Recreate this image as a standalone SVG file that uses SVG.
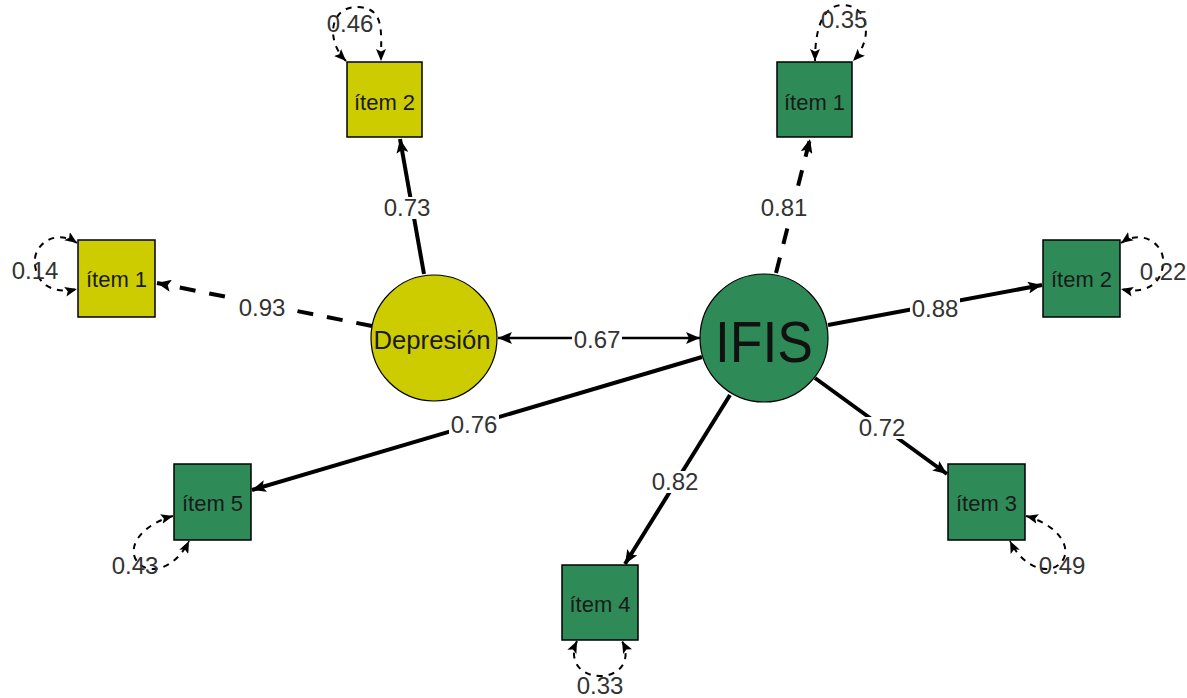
<svg xmlns="http://www.w3.org/2000/svg" width="1187" height="698" viewBox="0 0 1187 698">
<style>
  text { font-family: "Liberation Sans", Arial, sans-serif; }
  .lat { stroke: #000; stroke-width: 1.2; }
  .yel { fill: #CCCC00; }
  .grn { fill: #2E8B57; }
  .box { stroke: #000; stroke-width: 1.5; }
  .nlab { font-size: 22px; fill: #1a1a1a; text-anchor: middle; }
  .e { fill: none; stroke: #000; stroke-width: 4; }
  .dash { stroke-dasharray: 16 14; }
  .loop { fill: none; stroke: #000; stroke-width: 2; stroke-dasharray: 6 6; }
  .bg { fill: #fff; }
  .elab { font-size: 24px; fill: #333; text-anchor: middle; }
</style>
<defs>
  <marker id="ah" viewBox="0 0 14 12" refX="14" refY="6" markerWidth="14" markerHeight="12" markerUnits="userSpaceOnUse" orient="auto-start-reverse">
    <path d="M0,0 L14,6 L0,12 L3,6 Z" fill="#000"/>
  </marker>
  <marker id="ahs" viewBox="0 0 12 10" refX="12" refY="5" markerWidth="12" markerHeight="10" markerUnits="userSpaceOnUse" orient="auto-start-reverse">
    <path d="M0,0 L12,5 L0,10 L2.5,5 Z" fill="#000"/>
  </marker>
</defs>

<g id="connectors">
  <line class="e" x1="424" y1="274" x2="400" y2="139" marker-end="url(#ah)"/>
  <line class="e dash" x1="372" y1="326" x2="157" y2="283" marker-end="url(#ah)"/>
  <line class="e" style="stroke-width:2.5" x1="498" y1="338" x2="700" y2="338" marker-start="url(#ah)" marker-end="url(#ah)"/>
  <line class="e dash" x1="776" y1="273" x2="810" y2="139" marker-end="url(#ah)"/>
  <line class="e" x1="828" y1="325" x2="1042" y2="285" marker-end="url(#ah)"/>
  <line class="e" x1="815" y1="378" x2="947" y2="474" marker-end="url(#ah)"/>
  <line class="e" x1="730" y1="395" x2="625" y2="564" marker-end="url(#ah)"/>
  <line class="e" x1="702" y1="357" x2="252" y2="490" marker-end="url(#ah)"/>

  <path class="loop" d="M 346 61 C 325 40, 330 6, 358 7 C 385 8, 381 32, 381 61" marker-start="url(#ahs)" marker-end="url(#ahs)"/>
  <path class="loop" d="M 815 61 C 815 30, 822 5, 843 5 C 870 6, 873 40, 853 61" marker-start="url(#ahs)" marker-end="url(#ahs)"/>
  <path class="loop" d="M 77 243 C 55 228, 32 245, 35 265 C 38 290, 60 293, 77 289" marker-start="url(#ahs)" marker-end="url(#ahs)"/>
  <path class="loop" d="M 1121 243 C 1143 228, 1166 245, 1163 265 C 1160 290, 1138 293, 1121 289" marker-start="url(#ahs)" marker-end="url(#ahs)"/>
  <path class="loop" d="M 173 516 C 150 522, 128 540, 135 558 C 145 578, 175 570, 189 541" marker-start="url(#ahs)" marker-end="url(#ahs)"/>
  <path class="loop" d="M 1026 516 C 1049 522, 1071 540, 1064 558 C 1054 578, 1024 570, 1010 541" marker-start="url(#ahs)" marker-end="url(#ahs)"/>
  <path class="loop" d="M 577 641 C 568 660, 580 676, 600 676 C 620 676, 632 660, 622 641" marker-start="url(#ahs)" marker-end="url(#ahs)"/>

  <rect class="bg" x="382" y="197" width="50" height="22"/>
  <rect class="bg" x="237" y="297" width="50" height="22"/>
  <rect class="bg" x="572" y="329" width="50" height="22"/>
  <rect class="bg" x="759" y="197" width="50" height="22"/>
  <rect class="bg" x="910" y="298" width="50" height="22"/>
  <rect class="bg" x="857" y="417" width="50" height="22"/>
  <rect class="bg" x="650" y="471" width="50" height="22"/>
  <rect class="bg" x="449" y="414" width="50" height="22"/>

  <text class="elab" x="407" y="216">0.73</text>
  <text class="elab" x="262" y="316">0.93</text>
  <text class="elab" x="597" y="348">0.67</text>
  <text class="elab" x="784" y="216">0.81</text>
  <text class="elab" x="935" y="317">0.88</text>
  <text class="elab" x="882" y="436">0.72</text>
  <text class="elab" x="675" y="490">0.82</text>
  <text class="elab" x="474" y="433">0.76</text>

  <text class="elab" x="350" y="32">0.46</text>
  <text class="elab" x="844" y="28">0.35</text>
  <text class="elab" x="35" y="279">0.14</text>
  <text class="elab" x="1163" y="280">0.22</text>
  <text class="elab" x="135" y="574">0.43</text>
  <text class="elab" x="1062" y="574">0.49</text>
  <text class="elab" x="600" y="694">0.33</text>
</g>

<g id="dep">
  <circle class="yel lat" cx="434" cy="338" r="63"/>
  <text x="432" y="349" font-size="25" fill="#1a1a1a" text-anchor="middle" textLength="117" lengthAdjust="spacingAndGlyphs">Depresión</text>
</g>
<g id="ifis">
  <circle class="grn lat" cx="764" cy="338" r="64"/>
  <text x="764" y="362" font-size="57" fill="#111" text-anchor="middle" textLength="98" lengthAdjust="spacingAndGlyphs">IFIS</text>
</g>

<g id="dep_item2">
  <rect class="yel box" x="347" y="62" width="75" height="75"/>
  <text class="nlab" x="384.5" y="110">ítem 2</text>
</g>
<g id="dep_item1">
  <rect class="yel box" x="78" y="240" width="77" height="77"/>
  <text class="nlab" x="116.5" y="287">ítem 1</text>
</g>
<g id="ifis_item1">
  <rect class="grn box" x="777" y="62" width="75" height="75"/>
  <text class="nlab" x="814.5" y="110">ítem 1</text>
</g>
<g id="ifis_item2">
  <rect class="grn box" x="1043" y="240" width="77" height="77"/>
  <text class="nlab" x="1081.5" y="287">ítem 2</text>
</g>
<g id="ifis_item3">
  <rect class="grn box" x="948" y="464" width="77" height="76"/>
  <text class="nlab" x="986.5" y="511">ítem 3</text>
</g>
<g id="ifis_item4">
  <rect class="grn box" x="562" y="565" width="76" height="75"/>
  <text class="nlab" x="600" y="612">ítem 4</text>
</g>
<g id="ifis_item5">
  <rect class="grn box" x="174" y="464" width="77" height="76"/>
  <text class="nlab" x="212.5" y="511">ítem 5</text>
</g>
</svg>
